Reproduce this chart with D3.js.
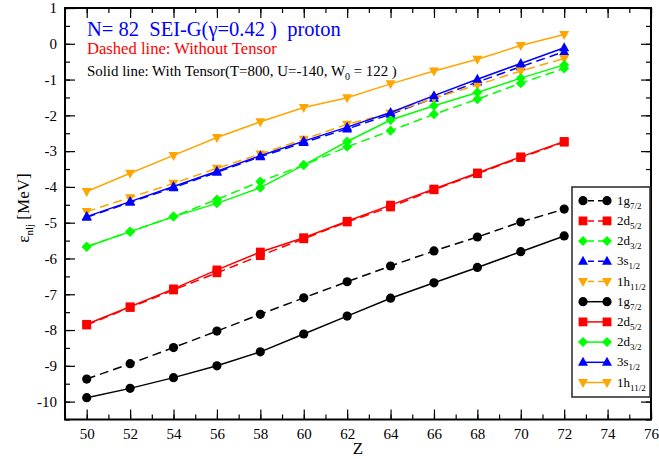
<!DOCTYPE html>
<html>
<head>
<meta charset="utf-8">
<script src="https://cdn.jsdelivr.net/npm/d3@7"></script>
<style>
  body { margin: 0; background: #fff; }
  svg { display: block; font-family: "Liberation Serif", "Times New Roman", serif; }
  .axis path { display: none; }
  .axis line { stroke: #000; stroke-width: 1.2; }
  .axis text { font-size: 15px; fill: #000; font-family: "Liberation Serif", serif; }
</style>
</head>
<body>
<div id="chart"></div>
<script>
// proton levels, N=82, SEI-G
var zValues = [50, 52, 54, 56, 58, 60, 62, 64, 66, 68, 70, 72];

// without tensor (dashed)
var g72NoTensor = [-9.37, -8.94, -8.49, -8.03, -7.56, -7.10, -6.65, -6.21, -5.79, -5.40, -4.98, -4.62];
var d52NoTensor = [-7.86, -7.37, -6.88, -6.40, -5.92, -5.45, -4.98, -4.56, -4.08, -3.63, -3.18, -2.75];
var d32NoTensor = [-5.67, -5.25, -4.83, -4.35, -3.85, -3.39, -2.88, -2.43, -1.97, -1.55, -1.10, -0.69];
var s12NoTensor = [-4.85, -4.43, -4.02, -3.59, -3.16, -2.76, -2.38, -1.97, -1.52, -1.07, -0.64, -0.22];
var h112NoTensor = [-4.69, -4.30, -3.90, -3.48, -3.08, -2.67, -2.25, -1.94, -1.52, -1.15, -0.76, -0.41];

// with tensor (solid)
var g72Tensor = [-9.89, -9.63, -9.33, -9.00, -8.61, -8.11, -7.61, -7.11, -6.68, -6.25, -5.81, -5.37];
var d52Tensor = [-7.84, -7.35, -6.85, -6.32, -5.82, -5.42, -4.96, -4.51, -4.06, -3.61, -3.16, -2.73];
var d32Tensor = [-5.67, -5.25, -4.83, -4.46, -4.02, -3.39, -2.73, -2.13, -1.73, -1.36, -0.96, -0.59];
var s12Tensor = [-4.83, -4.41, -3.99, -3.56, -3.13, -2.72, -2.33, -1.92, -1.45, -0.99, -0.55, -0.11];
var h112Tensor = [-4.13, -3.62, -3.12, -2.62, -2.18, -1.78, -1.51, -1.12, -0.76, -0.43, -0.05, 0.26];

var xTicks = [50, 52, 54, 56, 58, 60, 62, 64, 66, 68, 70, 72, 74, 76];
var yTicks = [-10, -9, -8, -7, -6, -5, -4, -3, -2, -1, 0, 1];

var width = 659, height = 459;
var plotL = 65, plotR = 651, plotT = 8, plotB = 419.5;

var series = [
	{ name: "1g", sub: "7/2", color: "#000000", shape: "circle", dashed: true, vals: g72NoTensor },
	{ name: "2d", sub: "5/2", color: "#ff0000", shape: "square", dashed: true, vals: d52NoTensor },
	{ name: "2d", sub: "3/2", color: "#00ff00", shape: "diamond", dashed: true, vals: d32NoTensor },
	{ name: "3s", sub: "1/2", color: "#0000ff", shape: "triup", dashed: true, vals: s12NoTensor },
	{ name: "1h", sub: "11/2", color: "#ffa500", shape: "tridown", dashed: true, vals: h112NoTensor },
	{ name: "1g", sub: "7/2", color: "#000000", shape: "circle", dashed: false, vals: g72Tensor },
	{ name: "2d", sub: "5/2", color: "#ff0000", shape: "square", dashed: false, vals: d52Tensor },
	{ name: "2d", sub: "3/2", color: "#00ff00", shape: "diamond", dashed: false, vals: d32Tensor },
	{ name: "3s", sub: "1/2", color: "#0000ff", shape: "triup", dashed: false, vals: s12Tensor },
	{ name: "1h", sub: "11/2", color: "#ffa500", shape: "tridown", dashed: false, vals: h112Tensor }
];

var x = d3.scaleLinear().domain([49, 76]).range([plotL, plotR]);
var y = d3.scaleLinear().domain([-10.5, 1]).range([plotB, plotT]);

var svg = d3.select("#chart").append("svg")
	.attr("width", width)
	.attr("height", height);

/**
 * marker path centred on 0,0
 */
function markerPath(shape) {
	var p = d3.path();
	if (shape == "circle") {
		p.arc(0, 0, 4.6, 0, 2 * Math.PI);
	} else if (shape == "square") {
		p.rect(-4.4, -4.4, 8.8, 8.8);
	} else if (shape == "diamond") {
		p.moveTo(0, -5); p.lineTo(5, 0); p.lineTo(0, 5); p.lineTo(-5, 0); p.closePath();
	} else if (shape == "triup") {
		p.moveTo(0, -5.5); p.lineTo(5, 3.5); p.lineTo(-5, 3.5); p.closePath();
	} else {
		p.moveTo(0, 5.5); p.lineTo(5, -3.5); p.lineTo(-5, -3.5); p.closePath();
	}
	return p.toString();
}

// minor ticks
var xMinor = d3.range(49, 77, 1);
var yMinor = d3.range(-10.5, 1.01, 0.5);

function drawAxis(axis, transform, cls) {
	return svg.append("g")
		.attr("class", "axis " + cls)
		.attr("transform", transform)
		.call(axis);
}

drawAxis(d3.axisBottom(x).tickValues(xMinor).tickSize(-5).tickFormat(""), "translate(0," + plotB + ")", "xminor");
drawAxis(d3.axisTop(x).tickValues(xMinor).tickSize(-5).tickFormat(""), "translate(0," + plotT + ")", "xminor");
drawAxis(d3.axisLeft(y).tickValues(yMinor).tickSize(-5).tickFormat(""), "translate(" + plotL + ",0)", "yminor");
drawAxis(d3.axisRight(y).tickValues(yMinor).tickSize(-5).tickFormat(""), "translate(" + plotR + ",0)", "yminor");

drawAxis(d3.axisBottom(x).tickValues(xTicks).tickSize(-10).tickPadding(9).tickFormat(d3.format("d")), "translate(0," + plotB + ")", "xbottom");
drawAxis(d3.axisTop(x).tickValues(xTicks).tickSize(-10).tickFormat(""), "translate(0," + plotT + ")", "xtop");
drawAxis(d3.axisLeft(y).tickValues(yTicks).tickSize(-10).tickPadding(8)
	.tickFormat(function(d) { return d < 0 ? "-" + Math.abs(d) : d; }), "translate(" + plotL + ",0)", "yleft");
drawAxis(d3.axisRight(y).tickValues(yTicks).tickSize(-10).tickFormat(""), "translate(" + plotR + ",0)", "yright");

// series
var line = d3.line()
	.x(function(d) { return x(d.z); })
	.y(function(d) { return y(d.v); });

series.forEach(function(s) {
	var pts = zValues.map(function(z, i) { return { z: z, v: s.vals[i] }; });
	var g = svg.append("g");
	g.append("path")
		.datum(pts)
		.attr("d", line)
		.attr("fill", "none")
		.attr("stroke", s.color)
		.attr("stroke-width", 1.5)
		.attr("stroke-dasharray", s.dashed ? "9,5" : null);
	g.selectAll(".pt")
		.data(pts)
		.enter()
		.append("path")
		.attr("class", "pt")
		.attr("transform", function(d) { return "translate(" + x(d.z) + "," + y(d.v) + ")"; })
		.attr("d", markerPath(s.shape))
		.attr("fill", s.color);
});

// frame
svg.append("rect")
	.attr("x", plotL)
	.attr("y", plotT)
	.attr("width", plotR - plotL)
	.attr("height", plotB - plotT)
	.attr("fill", "none")
	.attr("stroke", "#000")
	.attr("stroke-width", 2);

// titles
svg.append("text")
	.attr("x", 87).attr("y", 36)
	.attr("fill", "#0000ff")
	.style("font-size", "20.5px")
	.style("white-space", "pre")
	.text("N= 82  SEI-G(\u03b3=0.42 )  proton");
svg.append("text")
	.attr("x", 87).attr("y", 54)
	.attr("fill", "#ff0000")
	.style("font-size", "16.6px")
	.text("Dashed line: Without Tensor");
var sub = svg.append("text")
	.attr("x", 87).attr("y", 76)
	.attr("fill", "#000")
	.style("font-size", "14.9px")
	.style("white-space", "pre");
sub.append("tspan").text("Solid line: With Tensor(T=800, U=-140, W");
sub.append("tspan").attr("dy", 4).style("font-size", "10px").text("0");
sub.append("tspan").attr("dy", -4).text(" = 122 )");

// axis titles
svg.append("text")
	.attr("x", 358).attr("y", 454)
	.attr("text-anchor", "middle")
	.style("font-size", "17px")
	.text("Z");
var yl = svg.append("text")
	.attr("transform", "translate(29,208) rotate(-90)")
	.attr("text-anchor", "middle")
	.style("font-size", "17px")
	.style("white-space", "pre");
yl.append("tspan").text("\u03b5");
yl.append("tspan").attr("dy", 4).style("font-size", "11px").text("nlj");
yl.append("tspan").attr("dy", -4).text(" [MeV]");

// legend
var lg = svg.append("g");
lg.append("rect")
	.attr("x", 572).attr("y", 187)
	.attr("width", 78).attr("height", 210)
	.attr("fill", "#fff")
	.attr("stroke", "#333")
	.attr("stroke-width", 1.6);
series.forEach(function(s, i) {
	var ly = 200.7 + i * 20.2;
	lg.append("line")
		.attr("x1", 583).attr("x2", 607)
		.attr("y1", ly).attr("y2", ly)
		.attr("stroke", s.color)
		.attr("stroke-width", 1.5)
		.attr("stroke-dasharray", s.dashed ? "6,4" : null)
		.attr("stroke-dashoffset", s.dashed ? -5 : null);
	[583, 607].forEach(function(px) {
		lg.append("path")
			.attr("transform", "translate(" + px + "," + ly + ")")
			.attr("d", markerPath(s.shape))
			.attr("fill", s.color);
	});
	var t = lg.append("text")
		.attr("x", 617).attr("y", ly + 4)
		.style("font-size", "13px");
	t.append("tspan").text(s.name);
	t.append("tspan").attr("dy", 4).style("font-size", "9px").text(s.sub);
});
</script>
</body>
</html>
